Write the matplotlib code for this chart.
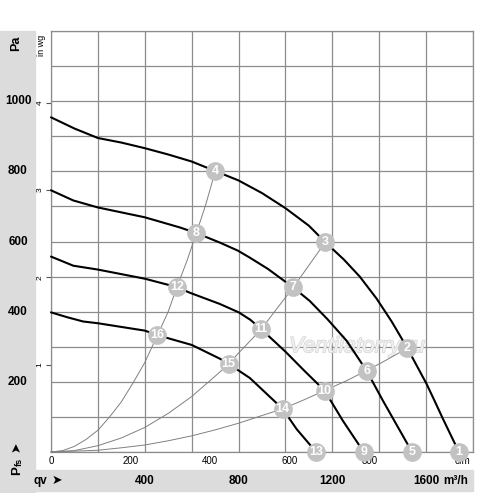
import matplotlib
matplotlib.use("Agg")
import matplotlib.pyplot as plt
from matplotlib.patches import Rectangle
from matplotlib.transforms import blended_transform_factory
import matplotlib.patheffects as pe

plt.rcParams['font.family'] = ['Liberation Sans', 'DejaVu Sans']

# ---- fan curves (flow m3/h, pressure Pa) ----
flow_1 = [0, 100, 200, 300, 400, 500, 600, 700, 800, 900, 1000, 1100, 1170, 1250, 1317, 1389, 1453, 1520, 1602, 1636, 1670, 1740]
pa_1 = [954, 922, 895, 882, 866, 848, 828, 801, 774, 738, 695, 645, 598, 548, 500, 437, 372, 296, 194, 146, 97, 0]

flow_2 = [0, 95, 200, 400, 550, 620, 720, 797, 848, 925, 976, 1033, 1103, 1180, 1261, 1346, 1416, 1540]
pa_2 = [746, 717, 697, 669, 640, 624, 597, 574, 554, 522, 497, 469, 431, 378, 317, 232, 146, 0]

flow_3 = [0, 95, 200, 400, 537, 592, 720, 801, 850, 897, 1000, 1080, 1167, 1245, 1334]
pa_3 = [557, 531, 520, 494, 470, 454, 422, 398, 377, 350, 286, 232, 175, 89, 0]

flow_4 = [0, 70, 137, 200, 400, 454, 601, 720, 758, 848, 988, 1048, 1131]
pa_4 = [398, 384, 372, 367, 346, 333, 305, 266, 251, 211, 123, 65, 0]

# ---- system curves ----
sys_a_flow = [0, 50, 100, 150, 200, 250, 300, 350, 400, 454, 500, 537, 580, 620, 660, 700]
sys_a_pa = [0, 4, 16, 36, 62, 100, 143, 197, 255, 333, 400, 470, 545, 624, 705, 799]

sys_b_flow = [0, 100, 200, 300, 400, 500, 600, 700, 758, 800, 897, 950, 1033, 1100, 1170]
sys_b_pa = [0, 4, 18, 40, 70, 110, 158, 216, 251, 282, 350, 397, 469, 532, 598]

sys_c_flow = [0, 200, 300, 400, 500, 600, 700, 800, 900, 988, 1080, 1167, 1260, 1346, 1430, 1520]
sys_c_pa = [0, 5, 12, 20, 32, 46, 63, 82, 104, 123, 149, 175, 203, 232, 262, 296]

# ---- numbered operating points ----
mark_labels = ['1', '2', '3', '4', '5', '6', '7', '8', '9', '10', '11', '12', '13', '14', '15', '16']
mark_flow = [1740, 1520, 1170, 700, 1540, 1346, 1033, 620, 1334, 1167, 897, 537, 1131, 988, 758, 454]
mark_pa = [0, 296, 598, 800, 0, 232, 469, 624, 0, 175, 350, 470, 0, 123, 251, 333]

# ---- tick labels ----
pa_ticks = [200, 400, 600, 800, 1000]
inwg_ticks = [1, 2, 3, 4]
cfm_ticks = [0, 200, 400, 600, 800]
m3h_labels = [400, 800, 1200]
m3h_last = 1600

W, H = 500, 493
def fx(px):
    return px / W
def fy(py):
    return 1 - py / H

fig = plt.figure(figsize=(5, 4.93), dpi=100)
band = '#dcdcdc'
fig.patches.append(Rectangle((0, fy(492)), fx(35), fy(31) - fy(492),
                             transform=fig.transFigure, color=band, zorder=-5))
fig.patches.append(Rectangle((0, fy(491)), fx(473), fy(470) - fy(491),
                             transform=fig.transFigure, color=band, zorder=-5))

ax = fig.add_axes([fx(51), fy(452), fx(473) - fx(51), fy(31) - fy(452)])
ax.set_xlim(0, 1800)
ax.set_ylim(0, 1200)

gridc = '#8c8c8c'
for q in range(0, 1801, 200):
    ax.axvline(q, color=gridc, lw=0.9, zorder=1)
for p in range(0, 1201, 100):
    ax.axhline(p, color=gridc, lw=0.9, zorder=1)
for s in ax.spines.values():
    s.set_color(gridc)
    s.set_linewidth(0.9)

# watermark
ax.text(1305, 300, 'Ventilatorry.ru', fontsize=16, fontstyle='italic',
        color='#f0f0f0', ha='center', va='center', zorder=2,
        path_effects=[pe.withStroke(linewidth=1.0, foreground='#d4d4d4')])

syscol = '#808080'
for f, p in [(sys_a_flow, sys_a_pa), (sys_b_flow, sys_b_pa), (sys_c_flow, sys_c_pa)]:
    ax.plot(f, p, color=syscol, lw=0.7, zorder=3, clip_on=False)

for f, p in [(flow_1, pa_1), (flow_2, pa_2), (flow_3, pa_3), (flow_4, pa_4)]:
    ax.plot(f, p, color='black', lw=1.5, zorder=4, clip_on=False,
            solid_capstyle='round', solid_joinstyle='round')

ax.plot(mark_flow, mark_pa, 'o', ms=13.5, color='#c2c2c2', mec='none', zorder=6, clip_on=False)
for lab, f, p in zip(mark_labels, mark_flow, mark_pa):
    ax.text(f, p, lab, color='white', fontsize=9, fontweight='bold', ha='center',
            va='center', zorder=7, clip_on=False)

# in wg ticks (left)
ax.set_yticks([v * 249.0 for v in inwg_ticks])
ax.set_yticklabels([str(v) for v in inwg_ticks], rotation=90, fontsize=6, va='center')
ax.tick_params(axis='y', length=3.5, width=0.8, color='#555555', pad=2)

# cfm ticks (bottom)
ax.set_xticks([v * 1.699 for v in cfm_ticks] + [1755])
ax.set_xticklabels([str(v) for v in cfm_ticks] + ['cfm'], fontsize=7)
ax.tick_params(axis='x', length=0, pad=3)

# Pa labels
tr_pa = blended_transform_factory(fig.transFigure, ax.transData)
for v in pa_ticks:
    ax.text(fx(18), v, str(v), transform=tr_pa, ha='center', va='center',
            fontsize=8.5, fontweight='bold', clip_on=False)
fig.text(fx(16), fy(43), 'Pa', rotation=90, fontsize=9, fontweight='bold', ha='center', va='center')
fig.text(fx(42), fy(45), 'in wg', rotation=90, fontsize=6.5, ha='center', va='center')

# m3/h labels
tr_q = blended_transform_factory(ax.transData, fig.transFigure)
for v in m3h_labels:
    ax.text(v, fy(481), str(v), transform=tr_q, ha='center', va='center',
            fontsize=8.5, fontweight='bold', clip_on=False)
ax.text(m3h_last, fy(481), str(m3h_last), transform=tr_q, ha='center', va='center',
        fontsize=8.5, fontweight='bold', clip_on=False)
fig.text(fx(443), fy(481), 'm³/h', ha='left', va='center', fontsize=8.5, fontweight='bold')

# axis symbols
fig.text(fx(40), fy(481), 'qv', ha='center', va='center', fontsize=8.5, fontweight='bold')
fig.text(fx(57), fy(480), '➤', ha='center', va='center', fontsize=9, family=['DejaVu Sans'])
fig.text(fx(16.5), fy(447), '➤', rotation=90, ha='center', va='center', fontsize=9, family=['DejaVu Sans'])
fig.text(fx(17), fy(471), 'P', rotation=90, ha='center', va='center', fontsize=9.5, fontweight='bold')
fig.text(fx(19), fy(462), 'fs', rotation=90, ha='center', va='center', fontsize=6.5, fontweight='bold')

fig.savefig('out.png', dpi=100)
